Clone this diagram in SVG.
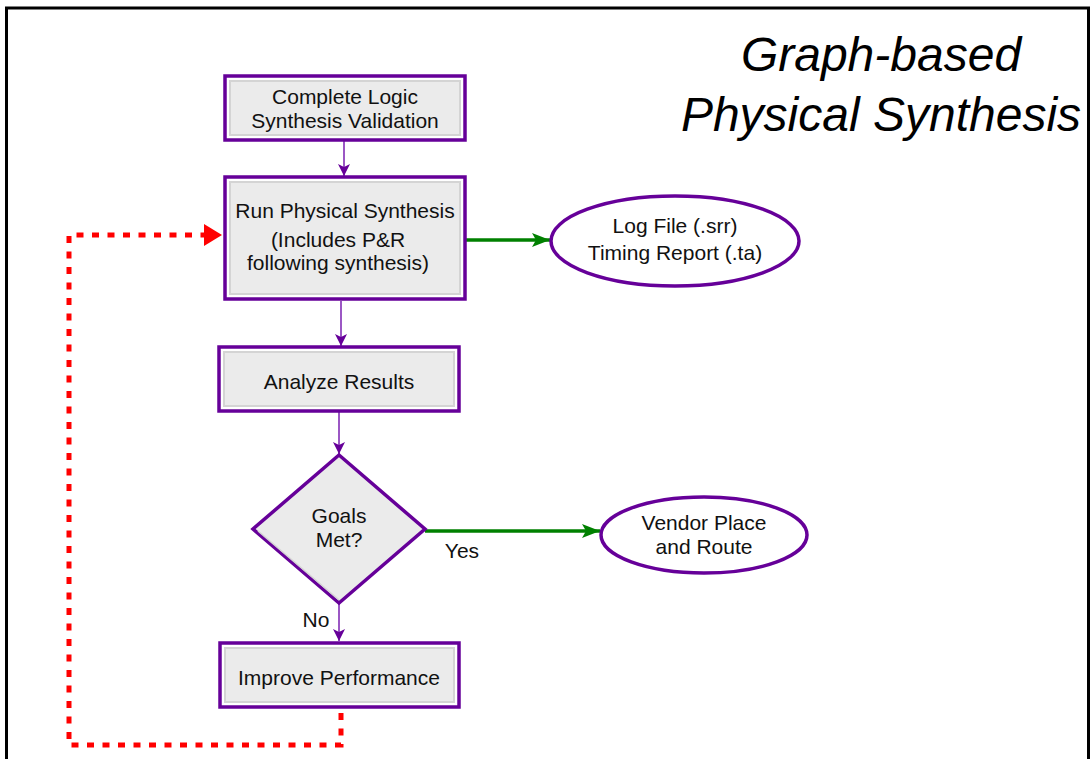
<svg xmlns="http://www.w3.org/2000/svg" width="1091" height="759" viewBox="0 0 1091 759">
  <defs>
    <style>
      .txt { font-family: "Liberation Sans", Arial, sans-serif; font-size: 21px; fill: #111; text-anchor: middle; }
      .title { font-family: "Liberation Sans", Arial, sans-serif; font-size: 48px; font-style: italic; fill: #000; text-anchor: middle; }
      .frame { fill: #fff; stroke: #660099; stroke-width: 3.5; }
      .panel { fill: #ebebeb; stroke: #d4d4d4; stroke-width: 2; }
      .oval { fill: #fff; stroke: #660099; stroke-width: 3.5; }
      .flow { fill: none; stroke: #7a1fb0; stroke-width: 1.5; }
      .result { fill: none; stroke: #008000; stroke-width: 3.5; }
      .loop { fill: none; stroke: #ff0000; stroke-width: 5; stroke-dasharray: 7 8.5; }
    </style>
    <marker id="arrowPurple" markerWidth="12" markerHeight="12" viewBox="0 0 12 12" refX="12" refY="6" orient="auto" markerUnits="userSpaceOnUse">
      <path d="M0,0 L12,6 L0,12 L3,6 Z" fill="#660099"/>
    </marker>
    <marker id="arrowGreen" markerWidth="18" markerHeight="14" viewBox="0 0 18 14" refX="18" refY="7" orient="auto" markerUnits="userSpaceOnUse">
      <path d="M0,0 L18,7 L0,14 L4,7 Z" fill="#008000"/>
    </marker>
  </defs>

  <rect width="1091" height="759" fill="#fff"/>
  <!-- page frame -->
  <path d="M6.5,762 V8 H1088.5 V762" fill="none" stroke="#000" stroke-width="3"/>

  <!-- title -->
  <text class="title" x="881" y="71">Graph-based</text>
  <text class="title" x="881" y="131">Physical Synthesis</text>

  <!-- connectors -->
  <g id="connectors">
    <line class="flow" x1="344" y1="141" x2="344" y2="176" marker-end="url(#arrowPurple)"/>
    <line class="flow" x1="341" y1="301" x2="341" y2="346" marker-end="url(#arrowPurple)"/>
    <line class="flow" x1="339" y1="412" x2="339" y2="454" marker-end="url(#arrowPurple)"/>
    <line class="flow" x1="339" y1="604" x2="339" y2="641" marker-end="url(#arrowPurple)"/>
    <line class="result" x1="466" y1="240" x2="550" y2="240" marker-end="url(#arrowGreen)"/>
    <line class="result" x1="425" y1="531" x2="600" y2="531" marker-end="url(#arrowGreen)"/>
    <path class="loop" d="M341,713 V745 H69 V235 H204"/>
    <path d="M204,224 L222,235 L204,246 Z" fill="#ff0000"/>
    <text class="txt" x="462" y="558">Yes</text>
    <text class="txt" x="316" y="627">No</text>
  </g>

  <g id="node-logic-validation">
    <rect class="frame" x="225" y="76" width="240" height="64"/>
    <rect class="panel" x="230" y="81" width="230" height="54"/>
    <text class="txt" x="345" y="104">Complete Logic</text>
    <text class="txt" x="345" y="128">Synthesis Validation</text>
  </g>

  <g id="node-run-synthesis">
    <rect class="frame" x="225" y="177" width="240" height="122"/>
    <rect class="panel" x="230" y="182" width="230" height="112"/>
    <text class="txt" x="345" y="218">Run Physical Synthesis</text>
    <text class="txt" x="338" y="247">(Includes P&amp;R</text>
    <text class="txt" x="338" y="270">following synthesis)</text>
  </g>

  <g id="node-reports">
    <ellipse class="oval" cx="675" cy="241" rx="124" ry="45"/>
    <text class="txt" x="675" y="233">Log File (.srr)</text>
    <text class="txt" x="675" y="260">Timing Report (.ta)</text>
  </g>

  <g id="node-analyze">
    <rect class="frame" x="219" y="347" width="240" height="64"/>
    <rect class="panel" x="224" y="352" width="230" height="54"/>
    <text class="txt" x="339" y="389">Analyze Results</text>
  </g>

  <g id="node-goals">
    <polygon points="339,455 425,529 339,603 253,529" fill="#ebebeb" stroke="#660099" stroke-width="3.5"/>
    <polyline points="258,531 339,600" fill="none" stroke="#d4d4d4" stroke-width="1.5"/>
    <text class="txt" x="339" y="523">Goals</text>
    <text class="txt" x="339" y="547">Met?</text>
  </g>

  <g id="node-vendor">
    <ellipse class="oval" cx="704" cy="535" rx="103" ry="38"/>
    <text class="txt" x="704" y="530">Vendor Place</text>
    <text class="txt" x="704" y="554">and Route</text>
  </g>

  <g id="node-improve">
    <rect class="frame" x="220" y="643" width="239" height="64"/>
    <rect class="panel" x="225" y="648" width="229" height="54"/>
    <text class="txt" x="339" y="685">Improve Performance</text>
  </g>
</svg>
